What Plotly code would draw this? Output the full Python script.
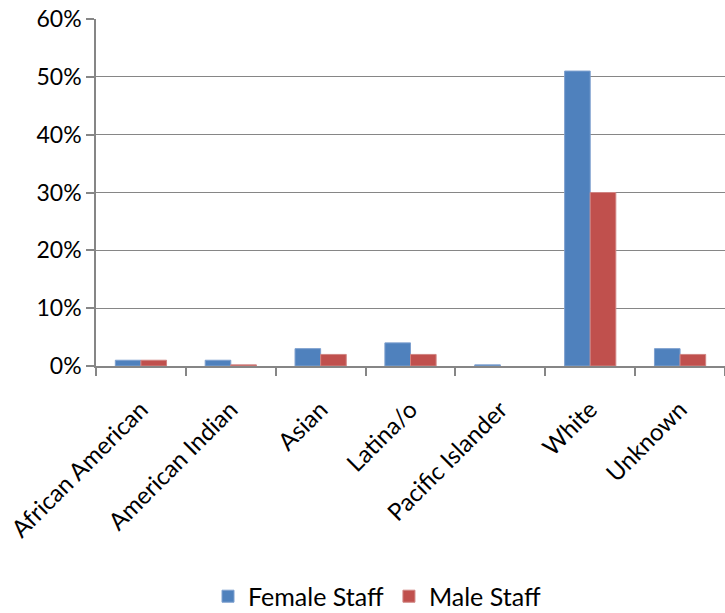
import plotly.graph_objects as go

categories = ["African American", "American Indian", "Asian", "Latina/o",
              "Pacific Islander", "White", "Unknown"]
female_staff = [0.01, 0.01, 0.03, 0.04, 0.002, 0.51, 0.03]
male_staff = [0.01, 0.002, 0.02, 0.02, 0.0, 0.30, 0.02]

BLUE = "#4F81BD"
RED = "#C0504D"
GRID = "#868686"
FONT = "Lato"

# no outline on empty bars so a zero value draws nothing
male_outline = [1 if v > 0 else 0 for v in male_staff]

fig = go.Figure()
fig.add_trace(go.Bar(x=categories, y=female_staff, name="Female Staff",
                     marker=dict(color=BLUE, line=dict(color="#7EA0CF", width=1))))
fig.add_trace(go.Bar(x=categories, y=male_staff, name="Male Staff",
                     marker=dict(color=RED, line=dict(color="#D08482", width=male_outline))))

fig.update_layout(
    width=725, height=613,
    margin=dict(l=96, r=0, t=19, b=247),
    paper_bgcolor="white", plot_bgcolor="white",
    barmode="group", bargap=0.43, bargroupgap=0,
    font=dict(family=FONT, size=22, color="#000000"),
    showlegend=True,
    legend=dict(orientation="h", x=0.52, xanchor="center", xref="container",
                y=0.027, yanchor="middle", yref="container",
                font=dict(size=25), itemwidth=30, traceorder="normal"),
)
fig.update_yaxes(range=[0, 0.6], dtick=0.1, tickformat=".0%",
                 showgrid=True, gridcolor=GRID, gridwidth=1.2,
                 showline=True, linecolor=GRID, linewidth=1.5,
                 ticks="outside", ticklen=8, tickcolor=GRID, tickwidth=1.5,
                 zeroline=False, tickfont=dict(size=23))
fig.update_xaxes(showline=True, linecolor=GRID, linewidth=2,
                 ticks="outside", ticklen=8, tickcolor=GRID, tickwidth=1.5,
                 tickson="boundaries", tickangle=-45, ticklabelstandoff=18,
                 tickfont=dict(size=24), showgrid=False)

fig.write_html("out.html")
